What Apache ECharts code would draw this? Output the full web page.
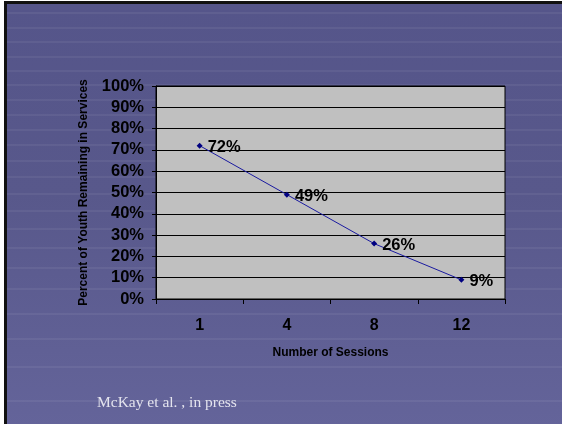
<!DOCTYPE html>
<html>
<head>
<meta charset="utf-8">
<script src="https://cdn.jsdelivr.net/npm/echarts@6/dist/echarts.min.js"></script>
<style>
html,body{margin:0;padding:0;background:#ffffff;}
#c{width:562px;height:424px;}
</style>
</head>
<body>
<div id="c"></div>
<script>
var categories = ['1', '4', '8', '12'];
var retained = [0.72, 0.49, 0.26, 0.09];
var yTicks = [0, 0.1, 0.2, 0.3, 0.4, 0.5, 0.6, 0.7, 0.8, 0.9, 1.0];
var xTitle = 'Number of Sessions';
var yTitle = 'Percent of Youth Remaining in Services';
var footnote = 'McKay et al. , in press';

var chart = echarts.init(document.getElementById('c'), null, {renderer: 'canvas'});

var bgEls = [
  {type: 'rect', z: -100, shape: {x: 4, y: 1, width: 560, height: 424}, style: {fill: '#111111'}},
  {type: 'rect', z: -99, shape: {x: 7, y: 4, width: 560, height: 424},
   style: {fill: {type: 'linear', x: 0, y: 0, x2: 0, y2: 1,
     colorStops: [{offset: 0, color: '#55558a'}, {offset: 0.45, color: '#58588b'}, {offset: 1, color: '#64649a'}]}}}
];
var hy = [9, 24, 38, 53, 67, 81, 96, 111, 126, 141, 157, 173, 190, 207, 225, 244, 264, 285, 310, 335, 363, 397];
hy.forEach(function (y) {
  bgEls.push({type: 'line', z: -98, shape: {x1: 7, y1: y + 4, x2: 562, y2: y + 4},
    style: {stroke: 'rgba(255,255,255,0.08)', lineWidth: 1.5}});
});

chart.setOption({
  animation: false,
  textStyle: {fontFamily: 'Liberation Sans, Arial, sans-serif'},
  graphic: bgEls.concat([
    {type: 'text', left: 97, top: 395, z: 10,
     style: {text: footnote, fill: '#e4e4ee', font: '15.5px "Liberation Serif", "Times New Roman", serif'}}
  ]),
  grid: {left: 156, top: 86, right: 57, bottom: 125, show: true,
         backgroundColor: '#c0c0c0', borderColor: '#000000', borderWidth: 1},
  xAxis: {
    type: 'category', data: categories, boundaryGap: true,
    axisLine: {lineStyle: {color: '#000000', width: 1}},
    axisTick: {show: true, alignWithLabel: false, length: 5, lineStyle: {color: '#000000'}},
    axisLabel: {color: '#000000', fontWeight: 'bold', fontSize: 16, margin: 19},
    name: xTitle, nameLocation: 'middle', nameGap: 48,
    nameTextStyle: {color: '#000000', fontWeight: 'bold', fontSize: 12}
  },
  yAxis: {
    type: 'value', min: 0, max: 1, interval: 0.1,
    axisLine: {show: true, lineStyle: {color: '#000000', width: 1}},
    axisTick: {show: true, length: 4, lineStyle: {color: '#000000'}},
    splitLine: {show: true, lineStyle: {color: '#000000', width: 1}},
    axisLabel: {color: '#000000', fontWeight: 'bold', fontSize: 16.5, margin: 12,
      formatter: function (v) { return Math.round(v * 100) + '%'; }},
    name: yTitle, nameLocation: 'middle', nameGap: 66, nameRotate: 90,
    nameTextStyle: {color: '#000000', fontWeight: 'bold', fontSize: 12}
  },
  series: [{
    type: 'line', data: retained,
    symbol: 'diamond', symbolSize: 6,
    itemStyle: {color: '#000080'},
    lineStyle: {color: '#1a1aa0', width: 1},
    label: {show: true, position: 'right', distance: 5, color: '#000000',
      fontWeight: 'bold', fontSize: 16.5, offset: [0, 2],
      formatter: function (p) { return Math.round(p.value * 100) + '%'; }}
  }]
});
</script>
</body>
</html>
